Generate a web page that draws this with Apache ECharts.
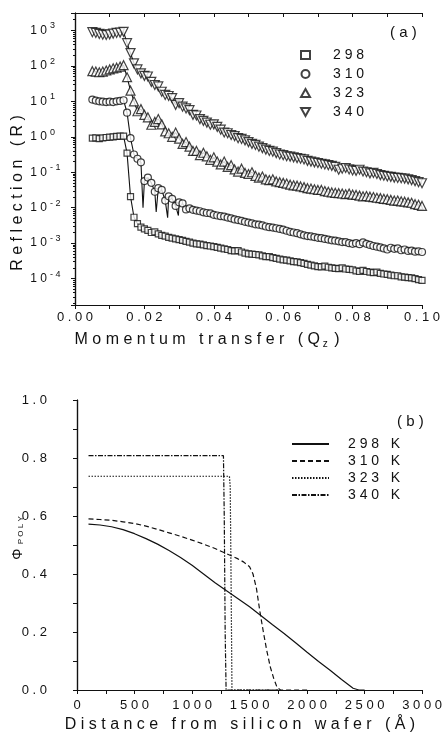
<!DOCTYPE html>
<html>
<head>
<meta charset="utf-8">
<script src="https://cdn.jsdelivr.net/npm/echarts@6/dist/echarts.min.js"></script>
<style>
  html, body { margin: 0; padding: 0; background: #fff; }
  #main { width: 445px; height: 733px; }
</style>
</head>
<body>
<div id="main"></div>
<script>
// (a) reflectivity, momentum transfer grid
var qz = [0.005,0.006,0.007,0.008,0.009,0.010,0.011,0.012,0.013,0.014,
          0.015,0.016,0.017,0.018,0.019,0.020,0.021,0.022,0.023,0.024,
          0.025,0.026,0.027,0.028,0.029,0.030,0.031,0.032,0.033,0.034,
          0.035,0.036,0.037,0.038,0.039,0.040,0.041,0.042,0.043,0.044,
          0.045,0.046,0.047,0.048,0.049,0.050,0.051,0.052,0.053,0.054,
          0.055,0.056,0.057,0.058,0.059,0.060,0.061,0.062,0.063,0.064,
          0.065,0.066,0.067,0.068,0.069,0.070,0.071,0.072,0.073,0.074,
          0.075,0.076,0.077,0.078,0.079,0.080,0.081,0.082,0.083,0.084,
          0.085,0.086,0.087,0.088,0.089,0.090,0.091,0.092,0.093,0.094,
          0.095,0.096,0.097,0.098,0.099,0.100];

// log10(R)
var r298Log = [-0.04,-0.03,-0.05,-0.03,-0.02,-0.01,0.00,0.01,0.02,0.02,
               -0.46,-1.69,-2.27,-2.45,-2.55,-2.60,-2.64,-2.70,-2.68,-2.74,
               -2.78,-2.80,-2.84,-2.86,-2.88,-2.90,-2.92,-2.95,-2.97,-3.00,
               -3.02,-3.03,-3.05,-3.07,-3.08,-3.10,-3.12,-3.14,-3.16,-3.18,
               -3.21,-3.22,-3.21,-3.25,-3.28,-3.30,-3.31,-3.32,-3.33,-3.36,
               -3.38,-3.38,-3.41,-3.43,-3.45,-3.47,-3.48,-3.50,-3.52,-3.53,
               -3.55,-3.57,-3.60,-3.62,-3.64,-3.66,-3.67,-3.65,-3.68,-3.70,
               -3.71,-3.72,-3.70,-3.73,-3.74,-3.75,-3.78,-3.80,-3.77,-3.80,
               -3.82,-3.83,-3.82,-3.85,-3.87,-3.88,-3.90,-3.92,-3.92,-3.95,
               -3.96,-3.97,-3.98,-4.00,-4.03,-4.05];
var r310Log = [1.05,1.02,1.00,0.99,0.98,0.99,0.98,1.00,1.01,1.03,
               0.68,-0.04,-0.50,-0.62,-0.72,-1.25,-1.15,-1.30,-1.55,-1.45,
               -1.50,-1.80,-1.68,-1.75,-1.95,-1.85,-1.88,-2.05,-2.02,-2.06,
               -2.08,-2.10,-2.13,-2.15,-2.16,-2.20,-2.22,-2.24,-2.25,-2.28,
               -2.30,-2.33,-2.35,-2.37,-2.40,-2.42,-2.44,-2.47,-2.48,-2.50,
               -2.53,-2.55,-2.56,-2.58,-2.60,-2.62,-2.65,-2.68,-2.70,-2.72,
               -2.75,-2.78,-2.80,-2.81,-2.83,-2.85,-2.86,-2.88,-2.90,-2.92,
               -2.93,-2.95,-2.97,-2.97,-3.00,-3.02,-3.00,-3.03,-2.98,-3.02,
               -3.05,-3.08,-3.10,-3.12,-3.15,-3.18,-3.13,-3.16,-3.15,-3.20,
               -3.18,-3.22,-3.21,-3.24,-3.23,-3.25];
var r323Log = [1.85,1.84,1.82,1.84,1.87,1.90,1.93,1.95,1.98,2.02,
               1.68,1.30,1.00,0.72,0.78,0.62,0.55,0.34,0.42,0.50,
               0.35,0.15,0.10,0.00,0.12,-0.05,-0.20,-0.15,-0.28,-0.40,
               -0.40,-0.52,-0.45,-0.55,-0.65,-0.58,-0.70,-0.78,-0.70,-0.85,
               -0.80,-0.92,-0.98,-0.90,-1.02,-1.05,-1.00,-1.10,-1.15,-1.12,
               -1.20,-1.22,-1.20,-1.26,-1.28,-1.30,-1.32,-1.35,-1.37,-1.38,
               -1.40,-1.42,-1.45,-1.46,-1.48,-1.50,-1.50,-1.53,-1.55,-1.57,
               -1.58,-1.59,-1.60,-1.62,-1.60,-1.63,-1.64,-1.66,-1.68,-1.67,
               -1.69,-1.70,-1.72,-1.73,-1.75,-1.76,-1.78,-1.80,-1.80,-1.82,
               -1.83,-1.85,-1.86,-1.90,-1.92,-1.95];
var r340Log = [2.95,2.93,2.90,2.88,2.87,2.89,2.91,2.93,2.94,2.96,
               2.64,2.36,2.07,1.90,1.79,1.72,1.70,1.55,1.46,1.42,
               1.27,1.18,1.15,1.09,0.90,0.95,0.85,0.80,0.75,0.62,
               0.60,0.50,0.45,0.40,0.34,0.35,0.28,0.20,0.12,0.10,
               0.05,0.02,-0.04,-0.06,-0.10,-0.15,-0.20,-0.23,-0.28,-0.32,
               -0.36,-0.40,-0.42,-0.46,-0.50,-0.52,-0.55,-0.56,-0.58,-0.60,
               -0.62,-0.64,-0.68,-0.70,-0.72,-0.74,-0.76,-0.78,-0.80,-0.82,
               -0.85,-0.93,-0.90,-0.88,-0.92,-0.95,-0.96,-0.93,-0.98,-1.00,
               -1.03,-1.02,-1.05,-1.08,-1.10,-1.12,-1.13,-1.15,-1.16,-1.17,
               -1.18,-1.20,-1.22,-1.25,-1.28,-1.31];
// fringe minima of the 310 fit curve
var dip310Qz = [0.0196,0.0234,0.0267,0.0298];
var dip310Log = [-2.00,-2.12,-2.28,-2.22];

// (b) volume fraction profiles
var dist298 = [100,200,300,400,500,600,700,800,900,1000,1100,1200,1300,1400,1500,1600,1700,1800,1900,2000,2100,2200,2300,2400,2450,2500];
var phi298  = [0.572,0.569,0.563,0.553,0.539,0.522,0.503,0.481,0.457,0.430,0.400,0.370,0.342,0.315,0.287,0.256,0.225,0.195,0.163,0.130,0.098,0.068,0.036,0.006,0.0,0.0];
var dist310 = [100,200,300,400,500,600,700,800,900,1000,1100,1200,1300,1400,1450,1500,1530,1560,1590,1620,1650,1680,1710,1740,1770,2000];
var phi310  = [0.590,0.588,0.585,0.580,0.574,0.565,0.554,0.542,0.530,0.517,0.503,0.488,0.470,0.452,0.441,0.425,0.400,0.350,0.270,0.200,0.135,0.080,0.040,0.008,0.0,0.0];
var dist323 = [100,1325,1332,1340,1347,1750];
var phi323  = [0.737,0.737,0.70,0.35,0.0,0.0];
var dist340 = [100,1273,1280,1288,1296,1750];
var phi340  = [0.808,0.808,0.60,0.20,0.0,0.0];

var tempsA = ['298','310','323','340'];
var tempsB = ['298 K','310 K','323 K','340 K'];

var INK = '#111';
var FONT = 'Liberation Sans';
var downTri = 'path://M0,0L10,0L5,9Z';
var R_MIN = 1.8e-5, R_MAX = 3100;

function spaced(s) { return String(s).split('').join(' '); }
function logPts(xs, logs) {
    return xs.map(function (x, i) { return [x, Math.pow(10, logs[i])]; });
}
function pairs(xs, ys) {
    return xs.map(function (x, i) { return [x, ys[i]]; });
}

var pts298 = logPts(qz, r298Log);
var pts310 = logPts(qz, r310Log);
var pts323 = logPts(qz, r323Log);
var pts340 = logPts(qz, r340Log);
var fit310 = pts310.concat(logPts(dip310Qz, dip310Log)).sort(function (a, b) { return a[0] - b[0]; });

var markerStyle = { color: '#fff', borderColor: INK, borderWidth: 1.2 };
var fitLine = { color: INK, width: 1.1 };

var axisLineStyle = { lineStyle: { color: INK, width: 1.2 } };

var chart = echarts.init(document.getElementById('main'), null, { renderer: 'canvas' });

var option = {
    animation: false,
    backgroundColor: '#fff',
    textStyle: { fontFamily: FONT, color: INK },
    grid: [
        { left: 75, right: 23, top: 13, height: 292 },
        { left: 77, right: 21, top: 400, height: 290 }
    ],
    xAxis: [
        {
            gridIndex: 0, type: 'value', min: 0, max: 0.1, interval: 0.01,
            axisLine: axisLineStyle,
            axisTick: { length: 4, lineStyle: { color: INK } },
            axisLabel: {
                margin: 6, fontSize: 13, color: INK, fontFamily: FONT,
                formatter: function (v) { return Math.round(v * 100) % 2 ? '' : spaced(v.toFixed(2)); }
            },
            splitLine: { show: false }
        },
        {
            gridIndex: 0, type: 'value', position: 'top', min: 0, max: 0.1, interval: 0.01,
            axisLine: axisLineStyle,
            axisTick: { inside: true, length: 4, lineStyle: { color: INK } },
            axisLabel: { show: false }, splitLine: { show: false }
        },
        {
            gridIndex: 1, type: 'value', min: 0, max: 3000, interval: 250,
            axisLine: axisLineStyle,
            axisTick: { length: 4, lineStyle: { color: INK } },
            axisLabel: {
                margin: 9, fontSize: 13, color: INK, fontFamily: FONT,
                formatter: function (v) { return v % 500 ? '' : spaced(v); }
            },
            splitLine: { show: false }
        },
        {
            gridIndex: 1, type: 'value', position: 'top', min: 0, max: 3000, interval: 250,
            axisLine: axisLineStyle,
            axisTick: { inside: true, length: 4, lineStyle: { color: INK } },
            axisLabel: { show: false }, splitLine: { show: false }
        }
    ],
    yAxis: [
        {
            // mantissa "1 0" of the decade labels
            gridIndex: 0, type: 'log', logBase: 10, min: R_MIN, max: R_MAX,
            axisLine: axisLineStyle,
            axisTick: { length: 4, lineStyle: { color: INK } },
            minorTick: { show: true, splitNumber: 9, length: 2, lineStyle: { color: INK } },
            axisLabel: {
                margin: 28, fontSize: 12, color: INK, fontFamily: FONT,
                showMinLabel: false, showMaxLabel: false,
                formatter: function () { return '1 0'; }
            },
            splitLine: { show: false }
        },
        {
            gridIndex: 0, type: 'log', logBase: 10, position: 'right', min: R_MIN, max: R_MAX,
            axisLine: axisLineStyle,
            axisTick: { inside: true, length: 4, lineStyle: { color: INK } },
            minorTick: { show: true, splitNumber: 9, length: 2, lineStyle: { color: INK } },
            axisLabel: { show: false }, splitLine: { show: false }
        },
        {
            // exponent of the decade labels, drawn as a superscript
            gridIndex: 0, type: 'log', logBase: 10, position: 'left', min: R_MIN, max: R_MAX,
            axisLine: { show: false }, axisTick: { show: false },
            axisLabel: {
                margin: 25, fontSize: 9, color: INK, fontFamily: FONT, align: 'left', verticalAlign: 'bottom',
                showMinLabel: false, showMaxLabel: false,
                formatter: function (v) { return spaced(Math.round(Math.log10(v))); }
            },
            splitLine: { show: false }
        },
        {
            gridIndex: 1, type: 'value', min: 0, max: 1, interval: 0.1,
            axisLine: axisLineStyle,
            axisTick: { length: 4, lineStyle: { color: INK } },
            axisLabel: {
                margin: 30, fontSize: 13, color: INK, fontFamily: FONT,
                formatter: function (v) { return Math.round(v * 10) % 2 ? '' : spaced(v.toFixed(1)); }
            },
            splitLine: { show: false }
        },
        {
            gridIndex: 1, type: 'value', position: 'right', min: 0, max: 1, interval: 0.1,
            axisLine: axisLineStyle,
            axisTick: { inside: true, length: 4, lineStyle: { color: INK } },
            axisLabel: { show: false }, splitLine: { show: false }
        }
    ],
    legend: [
        {
            data: [
                { name: '298', icon: 'rect' },
                { name: '310', icon: 'circle' },
                { name: '323', icon: 'triangle' },
                { name: '340', icon: downTri }
            ],
            orient: 'vertical', left: 295, top: 43,
            itemWidth: 9, itemHeight: 8, itemGap: 5,
            selectedMode: false,
            textStyle: { fontSize: 14, color: INK, fontFamily: FONT, padding: [0, 0, 0, 18] },
            formatter: function (n) { return spaced(n); }
        },
        {
            data: tempsB,
            orient: 'vertical', left: 286, top: 432,
            itemWidth: 37, itemHeight: 10, itemGap: 3,
            selectedMode: false,
            itemStyle: { opacity: 0 },
            textStyle: { fontSize: 14, color: INK, fontFamily: FONT, padding: [0, 0, 0, 14] },
            formatter: function (n) { return spaced(n.replace(' K', '')) + '   K'; }
        }
    ],
    graphic: [
        { type: 'text', left: 390, top: 25, style: { text: '( a )', fontSize: 15, fill: INK, fontFamily: FONT } },
        { type: 'text', left: 397, top: 414, style: { text: '( b )', fontSize: 15, fill: INK, fontFamily: FONT } },
        {
            type: 'text', x: 207, y: 340,
            style: {
                text: '{t|M o m e n t u m   t r a n s f e r   ( Q}{u| z}{t| )}',
                align: 'center', verticalAlign: 'middle',
                rich: {
                    t: { fontSize: 16, fontFamily: FONT, fill: INK },
                    u: { fontSize: 10, fontFamily: FONT, fill: INK, padding: [8, 2, 0, 0] }
                }
            }
        },
        {
            type: 'text', x: 18, y: 193, rotation: Math.PI / 2,
            style: {
                text: 'R e f l e c t i o n   ( R )', fontSize: 16, fill: INK, fontFamily: FONT,
                align: 'center', verticalAlign: 'middle'
            }
        },
        {
            type: 'text', x: 240, y: 725,
            style: {
                text: 'D i s t a n c e   f r o m   s i l i c o n   w a f e r   ( Å )', fontSize: 16, fill: INK, fontFamily: FONT,
                align: 'center', verticalAlign: 'middle'
            }
        },
        {
            type: 'text', x: 18, y: 538, rotation: Math.PI / 2,
            style: {
                text: '{p|Φ}{s|  P O L Y}', align: 'center', verticalAlign: 'middle',
                rich: {
                    p: { fontSize: 14, fontFamily: FONT, fill: INK },
                    s: { fontSize: 8, fontFamily: FONT, fill: INK, padding: [6, 0, 0, 0] }
                }
            }
        }
    ],
    series: [
        { name: 'fit298', type: 'line', xAxisIndex: 0, yAxisIndex: 0, data: pts298, symbol: 'none', lineStyle: fitLine, z: 2, silent: true },
        { name: 'fit310', type: 'line', xAxisIndex: 0, yAxisIndex: 0, data: fit310, symbol: 'none', lineStyle: fitLine, z: 2, silent: true },
        { name: 'fit323', type: 'line', xAxisIndex: 0, yAxisIndex: 0, data: pts323, symbol: 'none', lineStyle: fitLine, z: 2, silent: true },
        { name: 'fit340', type: 'line', xAxisIndex: 0, yAxisIndex: 0, data: pts340, symbol: 'none', lineStyle: fitLine, z: 2, silent: true },

        { name: tempsA[0], type: 'scatter', xAxisIndex: 0, yAxisIndex: 0, data: pts298, symbol: 'rect', symbolSize: 6, itemStyle: markerStyle, z: 3 },
        { name: tempsA[1], type: 'scatter', xAxisIndex: 0, yAxisIndex: 0, data: pts310, symbol: 'circle', symbolSize: 7, itemStyle: markerStyle, z: 3 },
        { name: tempsA[2], type: 'scatter', xAxisIndex: 0, yAxisIndex: 0, data: pts323, symbol: 'triangle', symbolSize: 9, itemStyle: markerStyle, z: 3 },
        { name: tempsA[3], type: 'scatter', xAxisIndex: 0, yAxisIndex: 0, data: pts340, symbol: downTri, symbolSize: 9, itemStyle: markerStyle, z: 3 },

        { name: tempsB[0], type: 'line', xAxisIndex: 2, yAxisIndex: 3, data: pairs(dist298, phi298), symbol: 'none', itemStyle: { color: INK }, lineStyle: { color: INK, width: 1.2, type: 'solid' } },
        { name: tempsB[1], type: 'line', xAxisIndex: 2, yAxisIndex: 3, data: pairs(dist310, phi310), symbol: 'none', itemStyle: { color: INK }, lineStyle: { color: INK, width: 1.2, type: [5, 3] } },
        { name: tempsB[2], type: 'line', xAxisIndex: 2, yAxisIndex: 3, data: pairs(dist323, phi323), symbol: 'none', itemStyle: { color: INK }, lineStyle: { color: INK, width: 1.2, type: [1.5, 1.5] } },
        { name: tempsB[3], type: 'line', xAxisIndex: 2, yAxisIndex: 3, data: pairs(dist340, phi340), symbol: 'none', itemStyle: { color: INK }, lineStyle: { color: INK, width: 1.2, type: [5, 1.5, 1.5, 1.5] } }
    ]
};

chart.setOption(option);
</script>
</body>
</html>
